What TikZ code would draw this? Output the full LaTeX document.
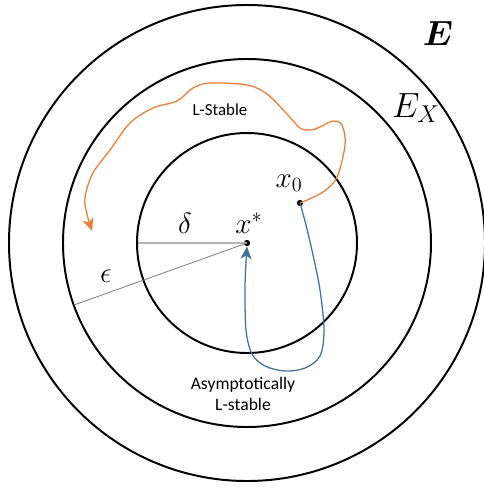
\documentclass[tikz,border=0pt]{standalone}
\usepackage{amsmath,amssymb}
\usepackage{fontspec}
\setsansfont{Carlito}
\usetikzlibrary{arrows.meta}
\definecolor{lorange}{RGB}{237,125,49}
\definecolor{lblue}{RGB}{65,113,156}

\begin{document}
\begin{tikzpicture}[
    x=0.025cm, y=-0.025cm,
    ring/.style={line width=1.4pt},
    dot/.style={circle, fill, inner sep=0pt, minimum size=4.5pt},
    lbl/.style={font=\sffamily\fontsize{12}{14}\selectfont, align=center},
    mth/.style={font=\fontsize{22}{26}\selectfont},
    traj/.style={line width=0.9pt, -{Stealth[length=9pt, width=8pt, inset=2.5pt]}},
  ]
  \useasboundingbox (0,0) rectangle (484,489);
  % --- Sets ---
  \coordinate (c) at (247,243);
  \draw[ring] (c) circle[radius=238];
  \draw[ring] (c) circle[radius=184];
  \draw[ring] (c) circle[radius=110];
  \node[font=\fontsize{24}{28}\selectfont] (E) at (438,33) {$\boldsymbol{E}$};
  \node[font=\fontsize{24}{28}\selectfont] (EX) at (416,108) {$E_X$};

  % --- Points ---
  \node[dot] (xs) at (247,243) {};
  \node[dot] (xo) at (300,203) {};
  \node[mth] (xslbl) at (249,223) {$x^*$};
  \node[mth] (xolbl) at (289,183) {$x_0$};

  % --- Radii ---
  \coordinate (dend) at (138,243);
  \coordinate (eend) at (74,305);
  \draw[gray!60, line width=1.1pt] (xs.center) -- (dend);
  \draw[gray, line width=0.6pt] (xs.center) -- (eend);
  \node[mth] (dlt) at (185,223) {$\delta$};
  \node[font=\fontsize{21}{24}\selectfont] (eps) at (106,276) {$\epsilon$};

  % --- Trajectories ---
  \coordinate (lend) at (92,231);
  \draw[traj, lorange] plot[smooth, tension=0.55] coordinates {(xo.center) (323,192) (337,177)
    (345,145) (342,125) (333,121) (320,127) (311,130) (300,128) (287,114) (267,94) (247,85)
    (210,83) (193,88) (177,101) (153,108) (130,123) (110,150) (93,173) (85,197) (87,214) (lend)};
  \node[lbl] (lst) at (220,110) {L-Stable};

  \draw[traj, lblue] plot[smooth, tension=0.55] coordinates {(xo.center) (306,225) (313,255)
    (320,290) (324,330) (320,356) (305,368) (285,371) (265,366) (252,354) (246,330)
    (245,290) (246,262) (xs.south)};
  \node[lbl, font=\sffamily\fontsize{12.5}{15}\selectfont] (alst) at (243,394) {Asymptotically\\L-stable};
\end{tikzpicture}
\end{document}
